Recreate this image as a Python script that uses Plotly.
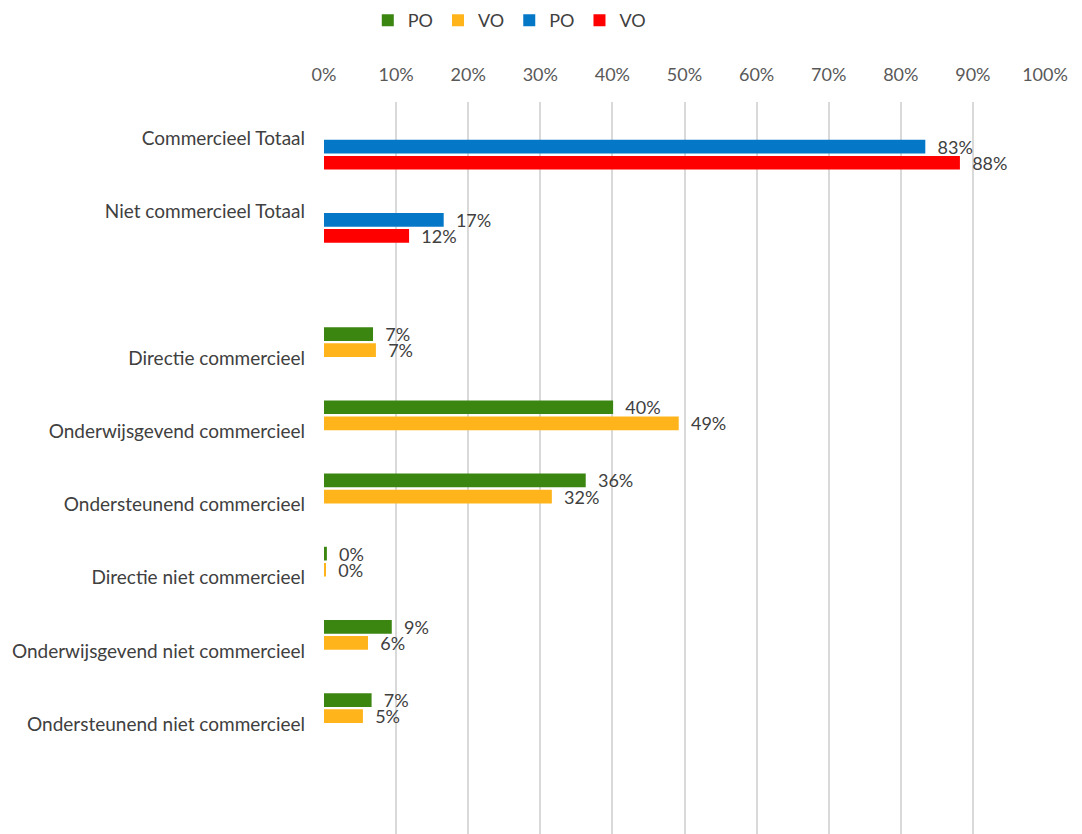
import plotly.graph_objects as go

categories = [
    "Commercieel Totaal",
    "Niet commercieel Totaal",
    " ",
    "Directie commercieel",
    "Onderwijsgevend commercieel",
    "Ondersteunend commercieel",
    "Directie niet commercieel",
    "Onderwijsgevend niet commercieel",
    "Ondersteunend niet commercieel",
    "  ",
]

# detail rows (PO / VO), green & orange
po_detail = [None, None, None, 0.068, 0.401, 0.363, 0.004, 0.094, 0.066, None]
vo_detail = [None, None, None, 0.072, 0.492, 0.316, 0.002, 0.061, 0.054, None]
# total rows (PO / VO), blue & red
po_total = [0.834, 0.166, None, None, None, None, None, None, None, None]
vo_total = [0.882, 0.118, None, None, None, None, None, None, None, None]

tick_vals = [0, 0.1, 0.2, 0.3, 0.4, 0.5, 0.6, 0.7, 0.8, 0.9, 1.0]

series = [
    ("PO", po_detail, "#3B8511"),
    ("VO", vo_detail, "#FFB41B"),
    ("PO", po_total, "#0477C7"),
    ("VO", vo_total, "#FF0000"),
]

FONT = "Lato, Carlito, Calibri, sans-serif"

# page body has an 8px default margin -> figure is 8px smaller on each side
W, H = 1074, 826
M_TOP = 94
PLOT_H = H - M_TOP

fig = go.Figure()
for name, vals, color in series:
    fig.add_trace(go.Bar(
        y=categories, x=vals, name=name, orientation="h",
        marker=dict(color=color, line=dict(width=0)),
        texttemplate="\u00a0\u00a0%{x:.0%}", textposition="outside",
        textfont=dict(size=18, color="#404040", family=FONT),
        constraintext="none", cliponaxis=False,
        hoverinfo="skip",
    ))

fig.update_layout(
    width=W, height=H,
    barmode="group", bargap=0.12, bargroupgap=0.15,
    plot_bgcolor="white", paper_bgcolor="white",
    margin=dict(l=316, r=37, t=M_TOP, b=0, autoexpand=False),
    font=dict(family=FONT, size=18, color="#404040"),
    showlegend=True,
    legend=dict(
        orientation="h", xref="container", yref="paper",
        x=0.335, y=1 + (M_TOP + 6) / PLOT_H, xanchor="left", yanchor="top",
        font=dict(size=18, color="#404040"),
        itemwidth=30, traceorder="normal",
        tracegroupgap=0, borderwidth=0, bgcolor="rgba(0,0,0,0)",
    ),
    xaxis=dict(
        side="top", range=[0, 1], tickvals=tick_vals, tickformat=".0%",
        showgrid=True, gridcolor="#D9D9D9", gridwidth=1.5,
        zeroline=False, showline=False, ticks="",
        tickfont=dict(size=18, color="#595959"),
        ticklabelstandoff=16, fixedrange=True,
    ),
    yaxis=dict(
        type="category", categoryorder="array", categoryarray=categories,
        autorange="reversed", showgrid=False, zeroline=False,
        showline=False, ticks="", ticklabelstandoff=18,
        tickfont=dict(size=19, color="#404040"),
    ),
)

fig.write_html("out.html")
